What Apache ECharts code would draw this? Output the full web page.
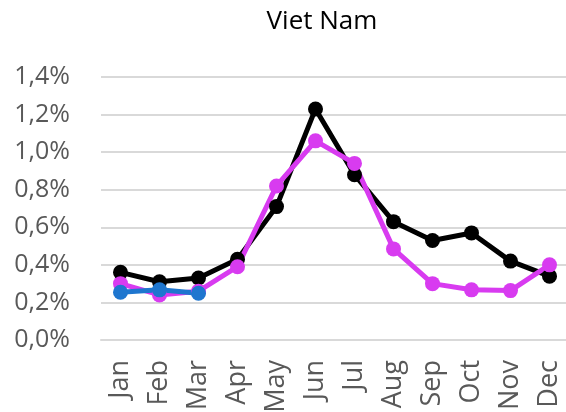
<!DOCTYPE html>
<html><head><meta charset="utf-8">
<script src="https://cdn.jsdelivr.net/npm/echarts@6/dist/echarts.min.js"></script>
<style>html,body{margin:0;padding:0;background:#fff}#c{width:566px;height:412px}</style>
</head><body><div id="c"></div>
<script>
var categories = ['Jan','Feb','Mar','Apr','May','Jun','Jul','Aug','Sep','Oct','Nov','Dec'];
var seriesBlack = [0.36,0.31,0.33,0.43,0.71,1.23,0.88,0.63,0.53,0.57,0.42,0.34];
var seriesMagenta = [0.30,0.24,0.26,0.39,0.82,1.06,0.94,0.485,0.30,0.267,0.263,0.40];
var seriesBlue = [0.254,0.267,0.249];
var yTicks = [0,0.2,0.4,0.6,0.8,1.0,1.2,1.4];
var titleText = 'Viet Nam';

var font = '"Open Sans", "Noto Sans", sans-serif';
var chart = echarts.init(document.getElementById('c'));
function mk(name, data, color) {
  return {name: name, type: 'line', data: data, symbol: 'circle', symbolSize: 15,
    lineStyle: {color: color, width: 5}, itemStyle: {color: color}, animation: false};
}
chart.setOption({
  animation: false,
  title: {text: titleText, left: 317, top: 4, textAlign: 'center',
    textStyle: {fontFamily: font, fontSize: 26, fontWeight: 'normal', color: '#000'}},
  grid: {left: 101, top: 77, width: 468, bottom: 72, containLabel: false, outerBoundsMode: 'none'},
  xAxis: {type: 'category', data: categories, boundaryGap: true,
    axisLine: {lineStyle: {color: '#d9d9d9', width: 2}}, axisTick: {show: false},
    axisLabel: {rotate: 90, margin: 20, fontFamily: font, fontSize: 27, color: '#595959'}},
  yAxis: {type: 'value', min: yTicks[0], max: yTicks[yTicks.length-1], interval: 0.2,
    axisLine: {show: false}, axisTick: {show: false},
    splitLine: {lineStyle: {color: '#d9d9d9', width: 2}},
    axisLabel: {margin: 31, fontFamily: font, fontSize: 25, color: '#595959',
      formatter: function (v) { return v.toFixed(1).replace('.', ',') + '%'; }}},
  series: [mk('A', seriesBlack, '#000000'), mk('B', seriesMagenta, '#d83bf0'), mk('C', seriesBlue, '#1e76cf')]
});
</script></body></html>
